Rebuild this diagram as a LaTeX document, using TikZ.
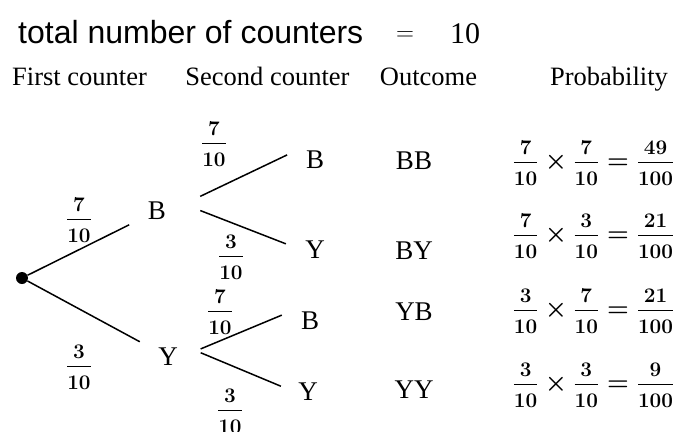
\documentclass[tikz,border=0pt]{standalone}
\usepackage[no-math]{fontspec}
\setmainfont{Liberation Serif}
\newfontfamily\titlefont{Liberation Sans}
\usetikzlibrary{positioning}
\DeclareMathSizes{27}{27}{21}{15}
\newcommand{\fr}[2]{\frac{#1\rule[-7pt]{0pt}{7pt}}{\rule{0pt}{23pt}#2}}

\tikzset{
  branch/.style={line width=1.5pt},
  letter/.style={font=\fontsize{27}{30}\selectfont},
  colhead/.style={font=\fontsize{26.5}{30}\selectfont, anchor=base},
  pfrac/.style={font=\fontsize{27}{30}\selectfont\boldmath, anchor=base},
}

\begin{document}
\begin{tikzpicture}[x=1pt, y=-1pt]
\useasboundingbox (0,0) rectangle (674,431);
% Title line
\node[font=\titlefont\fontsize{32}{36}\selectfont, anchor=base west, inner sep=0pt] (title) at (18,43) {total number of counters};
\node[font=\fontsize{26}{30}\selectfont, anchor=base] (eq) at (405,40) {$=$};
\node[font=\fontsize{30}{34}\selectfont, anchor=base] (ten) at (465,43) {10};

% Column heads
\node[colhead] (hfirst) at (79.5,85) {First counter};
\node[colhead] (hsecond) at (267.5,85) {Second counter};
\node[colhead] (hout) at (428.5,85) {Outcome};
\node[colhead] (hprob) at (609,85) {Probability};

% Tree nodes
\node[circle, fill, inner sep=0pt, minimum size=12pt] (root) at (22,278) {};
\node[letter] (b1) at (157,211) {B};
\node[letter] (y1) at (168,357) {Y};
\node[letter] (b2) at (315,160) {B};
\node[letter] (y2) at (315,250) {Y};
\node[letter] (b3) at (310,321) {B};
\node[letter] (y3) at (308,392) {Y};

% Branches
\draw[branch, shorten >=17pt] (root) -- (b1);
\draw[branch, shorten >=17pt] (root) -- (y1);
\draw[branch, shorten <=34pt, shorten >=17pt] (b1.east) -- (b2.north west);
\draw[branch, shorten <=33pt, shorten >=17pt] (b1.north east) -- (y2.west);
\draw[branch, shorten <=21pt, shorten >=17pt] (y1.east) -- (b3.north west);
\draw[branch, shorten <=21pt, shorten >=15pt] (y1.north east) -- (y3.west);

% Branch probabilities
\node[pfrac] (f1) at (79,225) {$\fr{7}{10}$};
\node[pfrac] (f2) at (79,372) {$\fr{3}{10}$};
\node[pfrac] (f3) at (214,149) {$\fr{7}{10}$};
\node[pfrac] (f4) at (231,262) {$\fr{3}{10}$};
\node[pfrac] (f5) at (220,317) {$\fr{7}{10}$};
\node[pfrac] (f6) at (230,416) {$\fr{3}{10}$};

% Outcomes
\node[letter] (o1) at (414,161) {BB};
\node[letter] (o2) at (414,251) {BY};
\node[letter] (o3) at (414,312) {YB};
\node[letter] (o4) at (414,390) {YY};

% Probabilities
\node[pfrac] (p1) at (593.5,168) {$\fr{7}{10}\times\fr{7}{10}=\fr{49}{100}$};
\node[pfrac] (p2) at (593.5,241) {$\fr{7}{10}\times\fr{3}{10}=\fr{21}{100}$};
\node[pfrac] (p3) at (593.5,316) {$\fr{3}{10}\times\fr{7}{10}=\fr{21}{100}$};
\node[pfrac] (p4) at (593.5,390) {$\fr{3}{10}\times\fr{3}{10}=\fr{9}{100}$};
\end{tikzpicture}
\end{document}
